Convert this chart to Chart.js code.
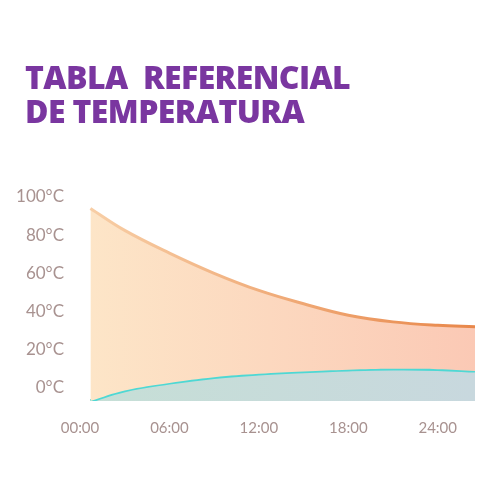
<!DOCTYPE html>
<html><head><meta charset="utf-8">
<script src="https://cdn.jsdelivr.net/npm/chart.js@4"></script>
<style>
body{margin:0;background:#fff;width:500px;height:500px;overflow:hidden;position:relative;font-family:Lato,"Open Sans",sans-serif}
#t{position:absolute;left:25px;top:60px;color:#7a36a0;font-family:"Open Sans",Lato,sans-serif;font-weight:800;font-size:32px;line-height:34px;letter-spacing:-0.6px}
canvas{position:absolute;left:0;top:0}
</style></head><body>
<canvas id="c" width="500" height="500"></canvas>
<div id="t">TABLA&nbsp; REFERENCIAL<br>DE TEMPERATURA</div>
<script>
const hours=[0.7,3,6,9,12,15,18,21,24,26.5];
const hotWater=[94,82.5,70.6,60,51,44,38,34.5,32.7,32];
const coldWater=[-7,-1.5,2.5,5.5,7.3,8.5,9.4,9.9,9.7,8.8];
const xTicks=[0,6,12,18,24];
const xTickLabels=['00:00','06:00','12:00','18:00','24:00'];
const yTicks=[0,20,40,60,80,100];
const pts=a=>a.map((v,i)=>({x:hours[i],y:v}));
function hg(ctx,c1,c2){const ch=ctx.chart,a=ch.chartArea;if(!a)return c1;const g=ch.ctx.createLinearGradient(a.left,0,a.right,0);g.addColorStop(0,c1);g.addColorStop(1,c2);return g;}
new Chart(document.getElementById('c'),{type:'line',
data:{datasets:[
{data:pts(hotWater),borderWidth:3,pointRadius:0,tension:0.4,fill:'+1',
 borderColor:c=>hg(c,'#f8d0a8','#e8874a'),backgroundColor:c=>hg(c,'#fde6c8','#fbc9b5')},
{data:pts(coldWater),borderWidth:3.5,pointRadius:0,tension:0.4,fill:'start',
 borderColor:'#4ed8d4',backgroundColor:c=>hg(c,'#c6dfd6','#c8d8de')}
]},
options:{responsive:false,animation:false,events:[],
layout:{padding:{top:197,right:25,bottom:50,left:0}},
plugins:{legend:{display:false},tooltip:{enabled:false}},
scales:{
x:{type:'linear',min:0,max:26.5,grid:{display:false},border:{display:false},
 afterBuildTicks:s=>{s.ticks=xTicks.map(v=>({value:v}));},
 afterFit:s=>{s.height=49;},
 ticks:{padding:10,autoSkip:false,maxRotation:0,color:'#a89290',font:{size:15,family:'Lato'},callback:(v)=>xTickLabels[xTicks.indexOf(v)]}},
y:{min:-7,max:100,grid:{display:false},border:{display:false},
 afterBuildTicks:s=>{s.ticks=yTicks.map(v=>({value:v}));},
 afterFit:s=>{s.width=80;},
 ticks:{padding:8,color:'#a89290',font:{size:17,family:'Lato'},callback:v=>v+'°C'}}
}}});
</script></body></html>
